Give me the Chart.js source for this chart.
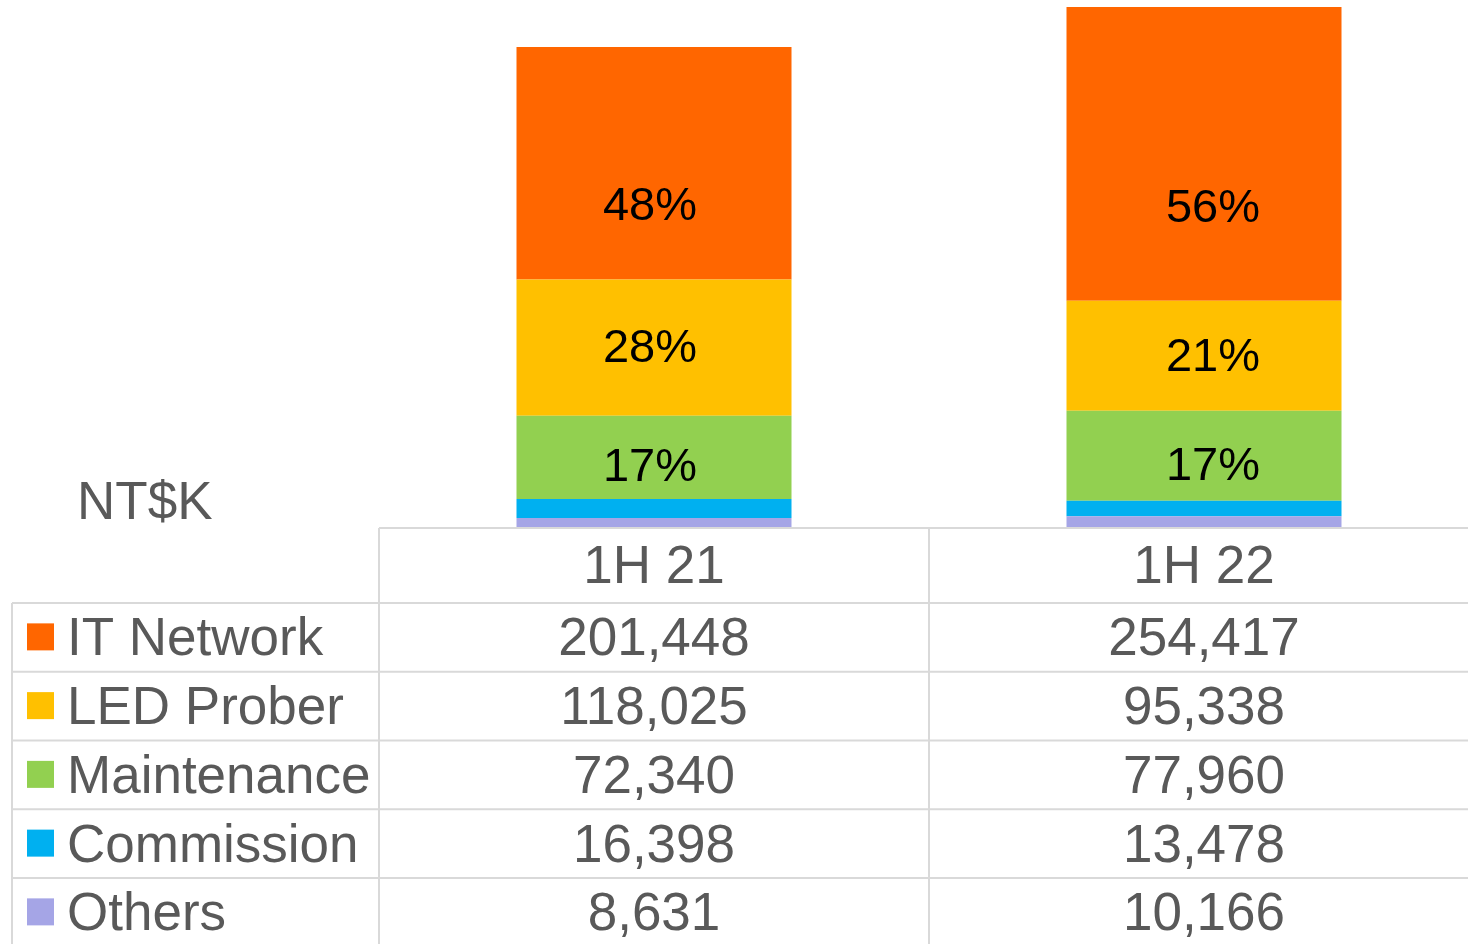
<!DOCTYPE html>
<html>
<head>
<meta charset="utf-8">
<title>Revenue mix 1H 21 vs 1H 22</title>
<script src="https://cdn.jsdelivr.net/npm/chart.js@4/dist/chart.umd.min.js"></script>
<style>
    html, body { margin: 0; padding: 0; background: #ffffff; overflow: hidden; }
    canvas { display: block; }
</style>
</head>
<body>
<canvas id="chartMix" width="1480" height="944"></canvas>
<script>
// Datos (NT$K)
const categories = ['1H 21', '1H 22'];
const seriesNames = ['IT Network', 'LED Prober', 'Maintenance', 'Commission', 'Others'];
const itNetwork = [201448, 254417];
const ledProber = [118025, 95338];
const maintenance = [72340, 77960];
const commission = [16398, 13478];
const others = [8631, 10166];
const unitLabel = 'NT$K';

const seriesValues = [itNetwork, ledProber, maintenance, commission, others];
const seriesColors = ['#FF6600', '#FFC000', '#92D050', '#00B0F0', '#A5A5E6'];
// solo las tres primeras series llevan etiqueta de %
const showPct = [true, true, true, false, false];
// posición vertical de la etiqueta dentro del segmento (0 = arriba, 1 = abajo)
const labelAnchor = [0.68, 0.5, 0.6, 0.5, 0.5];
// pequeño desplazamiento horizontal de las etiquetas por columna
const labelShift = [-4, 9];

const totals = categories.map((_, i) => seriesValues.reduce((s, arr) => s + arr[i], 0));
const textGrey = '#595959';
const lineGrey = '#D9D9D9';
const fontFam = '"Liberation Sans", Arial, sans-serif';

// apilado de abajo hacia arriba: Others primero
const datasets = seriesNames.map((name, i) => ({
    label: name,
    data: seriesValues[i],
    backgroundColor: seriesColors[i],
    borderWidth: 0,
    seriesIndex: i
})).reverse();

const pctLabels = {
    id: 'pctLabels',
    afterDatasetsDraw(chart) {
        const ctx = chart.ctx;
        ctx.save();
        ctx.fillStyle = '#000000';
        ctx.font = '47px ' + fontFam;
        ctx.textAlign = 'center';
        ctx.textBaseline = 'middle';
        chart.data.datasets.forEach((ds, di) => {
            const s = ds.seriesIndex;
            if (!showPct[s]) return;
            chart.getDatasetMeta(di).data.forEach((bar, i) => {
                const { x, y, base } = bar.getProps(['x', 'y', 'base'], true);
                const pct = Math.round(ds.data[i] / totals[i] * 100) + '%';
                ctx.fillText(pct, x + labelShift[i], y + (base - y) * labelAnchor[s] + 2);
            });
        });
        ctx.restore();
    }
};

const dataTable = {
    id: 'dataTable',
    afterDraw(chart) {
        const ctx = chart.ctx;
        const xs = chart.scales.x;
        const W = chart.width, H = chart.height;
        const colW = xs.width / categories.length;
        const tableTop = chart.chartArea.bottom;
        const headerH = 75;
        const rowH = 68.75;
        const tableLeft = 12;
        const firstCol = xs.getPixelForValue(0) - colW / 2;

        ctx.save();
        ctx.strokeStyle = lineGrey;
        ctx.lineWidth = 2;
        ctx.beginPath();
        // línea superior del encabezado
        ctx.moveTo(firstCol, tableTop);
        ctx.lineTo(W, tableTop);
        // líneas de filas
        for (let k = 0; k <= seriesNames.length; k++) {
            const y = tableTop + headerH + k * rowH;
            ctx.moveTo(tableLeft, y);
            ctx.lineTo(W, y);
        }
        // verticales
        ctx.moveTo(tableLeft, tableTop + headerH);
        ctx.lineTo(tableLeft, H);
        categories.forEach((_, i) => {
            const x = xs.getPixelForValue(i) - colW / 2;
            ctx.moveTo(x, tableTop);
            ctx.lineTo(x, H);
        });
        ctx.stroke();

        ctx.fillStyle = textGrey;
        ctx.font = '53px ' + fontFam;
        ctx.textBaseline = 'alphabetic';

        // encabezado
        ctx.textAlign = 'center';
        categories.forEach((c, i) => {
            ctx.fillText(c, xs.getPixelForValue(i), tableTop + headerH / 2 + 17);
        });

        // filas
        seriesNames.forEach((name, r) => {
            const cy = tableTop + headerH + r * rowH + rowH / 2;
            ctx.fillStyle = seriesColors[r];
            ctx.fillRect(27, cy - 14, 27, 27);
            ctx.fillStyle = textGrey;
            ctx.textAlign = 'left';
            ctx.fillText(name, 67, cy + 18);
            ctx.textAlign = 'center';
            seriesValues[r].forEach((v, i) => {
                ctx.fillText(v.toLocaleString('en-US'), xs.getPixelForValue(i), cy + 18);
            });
        });

        // unidad
        ctx.textAlign = 'left';
        ctx.fillText(unitLabel, 77, tableTop - 9);
        ctx.restore();
    }
};

const ctx = document.getElementById('chartMix').getContext('2d');
new Chart(ctx, {
    type: 'bar',
    data: { labels: categories, datasets: datasets },
    options: {
        responsive: false,
        animation: false,
        layout: { padding: { left: 379, right: 1, top: 0, bottom: 416 } },
        datasets: { bar: { categoryPercentage: 1.0, barPercentage: 0.5 } },
        scales: {
            x: { stacked: true, display: false },
            y: { stacked: true, display: false, min: 0, max: 457500 }
        },
        plugins: {
            legend: { display: false },
            tooltip: { enabled: false }
        }
    },
    plugins: [pctLabels, dataTable]
});
</script>
</body>
</html>
